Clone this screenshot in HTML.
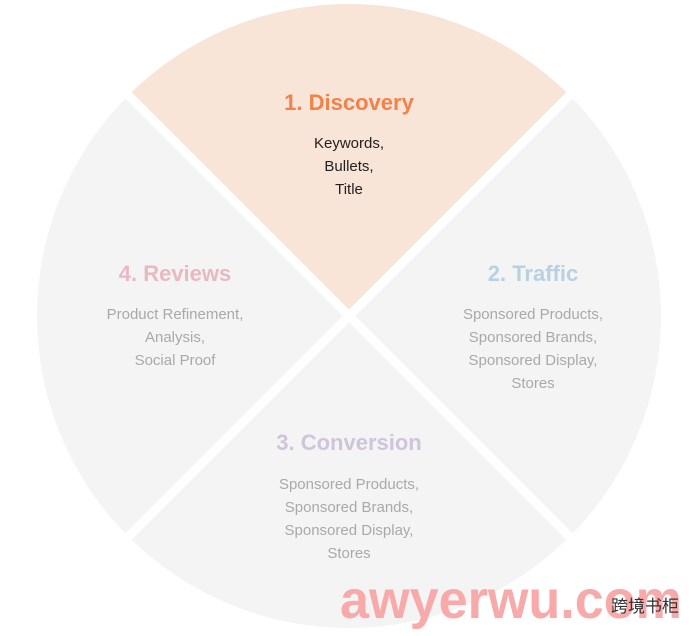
<!DOCTYPE html>
<html><head><meta charset="utf-8"><style>
html,body{margin:0;padding:0;background:#fff;}
svg{display:block}
text{font-family:"Liberation Sans","Noto Sans CJK SC",sans-serif;text-anchor:middle}
.t{font-size:22px;font-weight:bold}
.b{font-size:15px;fill:#a9a9a9}
</style></head><body>
<svg width="699" height="636" viewBox="0 0 699 636">
<defs><clipPath id="c"><circle cx="349" cy="316" r="312"/></clipPath></defs>
<g clip-path="url(#c)">
<rect x="0" y="0" width="699" height="636" fill="#f4f4f4"/>
<polygon points="349,316 0,-33 698,-33" fill="#f9e4d8"/>
<line x1="0" y1="-33" x2="698" y2="665" stroke="#fff" stroke-width="9"/>
<line x1="698" y1="-33" x2="0" y2="665" stroke="#fff" stroke-width="9"/>
</g>
<text class="t" x="349" y="110" fill="#f0824a">1. Discovery</text>
<text x="349" y="148" font-size="15" fill="#222">Keywords,</text>
<text x="349" y="171" font-size="15" fill="#222">Bullets,</text>
<text x="349" y="194" font-size="15" fill="#222">Title</text>
<text class="t" x="175" y="281" fill="#e8b9c0">4. Reviews</text>
<text class="b" x="175" y="319">Product Refinement,</text>
<text class="b" x="175" y="342">Analysis,</text>
<text class="b" x="175" y="365">Social Proof</text>
<text class="t" x="533" y="281" fill="#b8d1e2">2. Traffic</text>
<text class="b" x="533" y="319">Sponsored Products,</text>
<text class="b" x="533" y="342">Sponsored Brands,</text>
<text class="b" x="533" y="365">Sponsored Display,</text>
<text class="b" x="533" y="388">Stores</text>
<text class="t" x="349" y="450" fill="#cfc4da">3. Conversion</text>
<text class="b" x="349" y="489">Sponsored Products,</text>
<text class="b" x="349" y="512">Sponsored Brands,</text>
<text class="b" x="349" y="535">Sponsored Display,</text>
<text class="b" x="349" y="558">Stores</text>
<text x="340" y="618" font-size="54" font-weight="bold" fill="#f8a9a9" style="text-anchor:start" textLength="342" lengthAdjust="spacingAndGlyphs">awyerwu.com</text>
<text x="645" y="612" font-size="17" fill="#333">跨境书柜</text>
</svg>
</body></html>
